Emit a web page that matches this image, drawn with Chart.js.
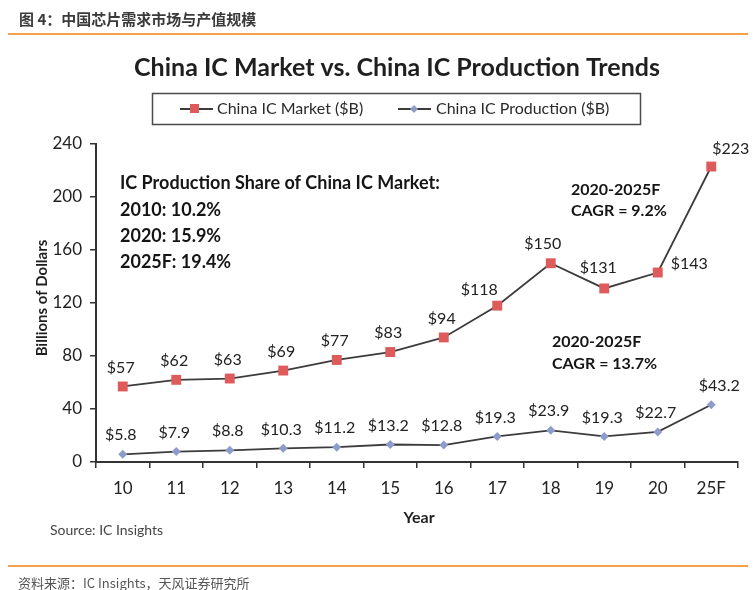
<!DOCTYPE html>
<html>
<head>
<meta charset="utf-8">
<script src="https://cdn.jsdelivr.net/npm/chart.js@4.4.1/dist/chart.umd.min.js"></script>
<style>
  html,body{margin:0;padding:0;background:#fff;width:754px;height:590px;overflow:hidden;}
  #wrap{position:relative;width:754px;height:590px;}
  canvas{position:absolute;left:0;top:0;}
  .hdr{position:absolute;left:19px;top:8px;font:bold 15px "Noto Sans CJK SC",sans-serif;color:#3a3a3a;}
  .line1{position:absolute;left:8px;top:33px;width:740px;height:2px;background:#F4A04C;}
  .line2{position:absolute;left:8px;top:565px;width:740px;height:2px;background:#F4A04C;}
  .ftr{position:absolute;left:18px;top:573px;font:13px "Noto Sans CJK SC",sans-serif;color:#555;}
</style>
</head>
<body>
<div id="wrap">
  <canvas id="c" width="754" height="590"></canvas>
  <div class="hdr">图 4：中国芯片需求市场与产值规模</div>
  <div class="line1"></div>
  <div class="line2"></div>
  <div class="ftr">资料来源：IC Insights，天风证券研究所</div>
</div>
<script>
const categories = ["10","11","12","13","14","15","16","17","18","19","20","25F"];
const marketValues = [57,62,63,69,77,83,94,118,150,131,143,223];
const productionValues = [5.8,7.9,8.8,10.3,11.2,13.2,12.8,19.3,23.9,19.3,22.7,43.2];
const yTicks = [0,40,80,120,160,200,240];

const FONT = "Lato, 'Open Sans', sans-serif";
const marketColor = "#DE5B5B";
const prodColor = "#8E9CCB";
const lineColor = "#3c3c3c";

const overlay = {
  id: "overlay",
  afterDraw(chart) {
    const ctx = chart.ctx;
    ctx.save();
    // Title
    ctx.fillStyle = "#1f1f1f";
    ctx.font = "bold 25px " + FONT;
    ctx.textAlign = "center";
    ctx.textBaseline = "middle";
    ctx.fillText("China IC Market vs. China IC Production Trends", 397, 68);

    // Legend box
    ctx.strokeStyle = "#4a4a4a";
    ctx.lineWidth = 1.5;
    ctx.strokeRect(152.5, 93.5, 488, 31);
    ctx.font = "16px " + FONT;
    ctx.textAlign = "left";
    ctx.fillStyle = "#2a2a2a";
    // market entry
    ctx.strokeStyle = lineColor; ctx.lineWidth = 1.8;
    ctx.beginPath(); ctx.moveTo(180,109); ctx.lineTo(213,109); ctx.stroke();
    ctx.fillStyle = marketColor; ctx.fillRect(190,104,9,9);
    ctx.fillStyle = "#2a2a2a";
    ctx.fillText("China IC Market ($B)", 217, 109);
    // production entry
    ctx.beginPath(); ctx.moveTo(398,109); ctx.lineTo(431,109); ctx.stroke();
    ctx.fillStyle = prodColor;
    ctx.beginPath(); ctx.moveTo(414,105); ctx.lineTo(418,109); ctx.lineTo(414,113); ctx.lineTo(410,109); ctx.closePath(); ctx.fill();
    ctx.fillStyle = "#2a2a2a";
    ctx.fillText("China IC Production ($B)", 436, 109);

    // Axis titles
    ctx.fillStyle = "#1f1f1f";
    ctx.font = "bold 16px " + FONT;
    ctx.textAlign = "center";
    ctx.fillText("Year", 419, 518);
    ctx.save();
    ctx.translate(42, 298);
    ctx.rotate(-Math.PI/2);
    ctx.font = "bold 15px " + FONT;
    ctx.fillText("Billions of Dollars", 0, 0);
    ctx.restore();

    // Source
    ctx.font = "14px " + FONT;
    ctx.fillStyle = "#444";
    ctx.textAlign = "left";
    ctx.fillText("Source: IC Insights", 50, 530);

    // Annotations
    ctx.fillStyle = "#151515";
    ctx.font = "bold 18px " + FONT;
    ctx.fillText("IC Production Share of China IC Market:", 120, 183);
    ctx.fillText("2010: 10.2%", 120, 210);
    ctx.fillText("2020: 15.9%", 120, 236);
    ctx.fillText("2025F: 19.4%", 120, 262);
    ctx.font = "bold 16px " + FONT;
    ctx.fillText("2020-2025F", 571, 190);
    ctx.fillText("CAGR = 9.2%", 571, 211);
    ctx.fillText("2020-2025F", 552, 342);
    ctx.fillText("CAGR = 13.7%", 552, 364);

    // Data labels
    ctx.font = "16px " + FONT;
    ctx.fillStyle = "#222";
    chart.data.datasets.forEach((ds, di) => {
      const meta = chart.getDatasetMeta(di);
      meta.data.forEach((pt, i) => {
        const label = "$" + ds.data[i];
        let x = pt.x - 2, y = pt.y - 19, align = "center";
        if (di === 0 && i === 10) { x = pt.x + 13; y = pt.y - 9; align = "left"; }
        if (di === 0 && i === 11) { x = pt.x + 1; y = pt.y - 18; align = "left"; }
        if (di === 0 && i === 7) { x = pt.x - 18; y = pt.y - 16; }
        if (di === 0 && i === 8) { x = pt.x - 8; y = pt.y - 19; }
        if (di === 0 && i === 9) { x = pt.x - 6; y = pt.y - 21; }
        if (di === 1 && i === 11) { x = pt.x + 8; y = pt.y - 19; }
        ctx.textAlign = align;
        ctx.fillText(label, x, y);
      });
    });
    ctx.restore();
  }
};

const bg = {
  id: "bg",
  beforeDraw(chart) {
    const ctx = chart.ctx;
    ctx.save();
    ctx.fillStyle = "#fff";
    ctx.fillRect(0, 0, chart.width, chart.height);
    ctx.restore();
  }
};

new Chart(document.getElementById("c"), {
  type: "line",
  data: {
    labels: categories,
    datasets: [
      {
        label: "China IC Market ($B)",
        data: marketValues,
        borderColor: lineColor,
        borderWidth: 1.8,
        pointStyle: "rect",
        pointRadius: 7,
        pointBackgroundColor: marketColor,
        pointBorderColor: marketColor,
        pointBorderWidth: 0,
        tension: 0
      },
      {
        label: "China IC Production ($B)",
        data: productionValues,
        borderColor: lineColor,
        borderWidth: 1.8,
        pointStyle: "rectRot",
        pointRadius: 4.5,
        pointBackgroundColor: prodColor,
        pointBorderColor: prodColor,
        pointBorderWidth: 0,
        tension: 0
      }
    ]
  },
  options: {
    responsive: false,
    animation: false,
    devicePixelRatio: 1,
    layout: { padding: { top: 144, left: 0, right: 16, bottom: 0 } },
    plugins: {
      legend: { display: false },
      title: { display: false },
      tooltip: { enabled: false }
    },
    scales: {
      x: {
        type: "category",
        offset: true,
        grid: { offset: true, drawOnChartArea: false, drawTicks: true, tickLength: 6, color: "#333", lineWidth: 1.5 },
        border: { display: true, color: "#333", width: 2 },
        ticks: { font: { family: FONT, size: 17 }, color: "#222", padding: 10, maxRotation: 0, autoSkip: false },
        afterFit(s) { s.height = 128; }
      },
      y: {
        min: 0,
        max: 240,
        afterBuildTicks(s) { s.ticks = yTicks.map(v => ({ value: v })); },
        grid: { drawOnChartArea: false, drawTicks: true, tickLength: 6, color: "#333", lineWidth: 1.5 },
        border: { display: true, color: "#333", width: 2 },
        ticks: { font: { family: FONT, size: 17 }, color: "#222", padding: 8 },
        afterFit(s) { s.width = 96; }
      }
    }
  },
  plugins: [bg, overlay]
});
</script>
</body>
</html>
